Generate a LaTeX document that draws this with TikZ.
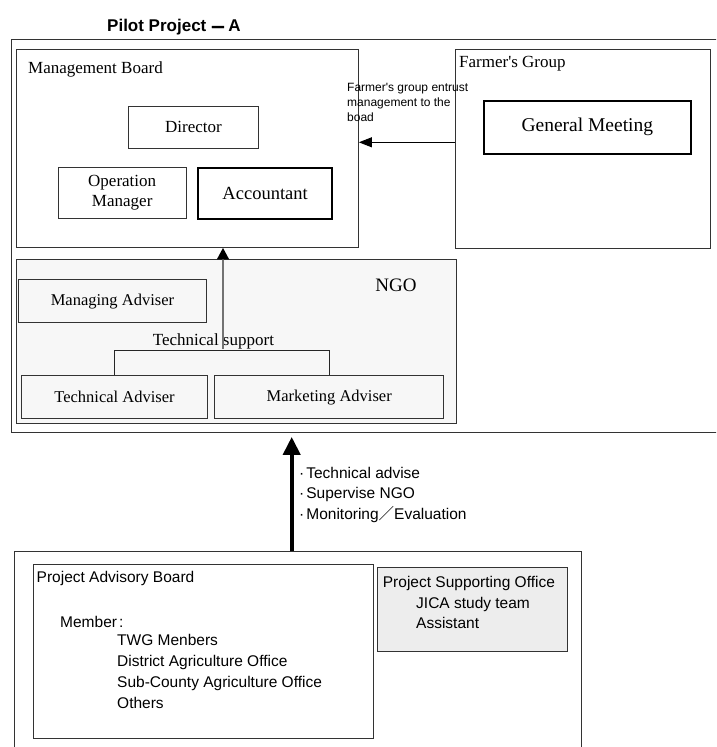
\documentclass[tikz,border=0pt]{standalone}
\usepackage{fontspec}
\setmainfont{Liberation Serif}
\newfontfamily\gothic{Liberation Sans}
\newfontfamily\cjk{Noto Sans CJK JP}
\newfontfamily\cjkbold[FakeBold=2]{Noto Sans CJK JP}
\usetikzlibrary{arrows.meta}

\tikzset{
  frame/.style={draw=black!80, line width=0.9pt, inner sep=0pt, anchor=north west},
  heavy/.style={draw=black, line width=2.2pt, inner sep=0pt, anchor=north west},
  serif/.style={font=\fontsize{17}{20}\selectfont},
  lbl/.style={inner sep=0pt, anchor=base west},
  goth/.style={lbl, font=\gothic\fontsize{15.5}{20}\selectfont},
  small/.style={lbl, font=\gothic\fontsize{12}{15}\selectfont},
  link/.style={draw=black, line width=1pt},
}

\begin{document}
\begin{tikzpicture}[x=1pt, y=-1pt]
\useasboundingbox (0,0) rectangle (716,747);
\clip (0,0) rectangle (716,747);

% title
\node[lbl, font=\gothic\bfseries\fontsize{17}{20}\selectfont] (title) at (107,31)
  {Pilot Project\hspace{3pt}\raisebox{-2.5pt}{\cjkbold －}\hspace{2pt}A};

% upper frame: management board, farmers and NGO
\node[frame, minimum width=720pt, minimum height=393.5pt] (outer) at (10.5,38.5) {};

\node[frame, minimum width=342.5pt, minimum height=198.5pt] (mb) at (15.5,48.5) {};
\node[lbl, serif] (mblabel) at (28,73.5) {Management Board};
\node[frame, serif, minimum width=130pt, minimum height=42pt] (dir) at (128,106) {Director};
\node[frame, serif, align=center, minimum width=128.5pt, minimum height=51pt] (opm) at (57.5,167)
  {Operation\\Manager};
\node[heavy, font=\fontsize{18.5}{21}\selectfont, minimum width=134pt, minimum height=51pt] (acc) at (197,167)
  {Accountant};

\node[frame, minimum width=254.5pt, minimum height=199.5pt] (fg) at (455,48.5) {};
\node[lbl, serif] (fglabel) at (459,67.5) {Farmer\textquotesingle s Group};
\node[heavy, font=\fontsize{19.5}{22}\selectfont, minimum width=207pt, minimum height=53pt] (gm) at (482.7,99.5)
  {General Meeting};

% the group hands management over to the board
\node[small] (ent1) at (347,91.6) {Farmer\textquotesingle s group entrust};
\node[small] (ent2) at (347,106.5) {management to the};
\node[small] (ent3) at (347,121.6) {boad};
\coordinate (fgarrow) at (455,142.3);
\draw[link, -{Triangle[length=13pt,width=10pt]}] (fgarrow) -- (fgarrow -| mb.east);

% NGO
\node[frame, fill=black!3, minimum width=440pt, minimum height=163.2pt] (ngo) at (15.7,259.3) {};
\node[serif, font=\fontsize{19}{22}\selectfont, inner sep=0pt] (ngolabel) at (396,285) {NGO};
\node[frame, serif, font=\fontsize{16.5}{20}\selectfont, minimum width=187.4pt, minimum height=43.3pt] (mad) at (18.3,279)
  {Managing Adviser};
\node[frame, font=\fontsize{16.5}{20}\selectfont, minimum width=186.6pt, minimum height=43.3pt] (tad) at (20.7,375)
  {Technical Adviser};
\node[frame, font=\fontsize{16.5}{20}\selectfont, minimum width=229pt, minimum height=43.3pt] (kad) at (214.3,375)
  {Marketing Adviser};
\node[lbl, serif] (tslabel) at (152.7,345.5) {Technical support};
\draw[draw=black!85, line width=0.9pt] (tad.north) -- ++(0,-24.5) -| (kad.north);
\coordinate (tsfoot) at (223,348.5);
\draw[draw=black!55, line width=1.3pt, -{Triangle[length=11.5pt,width=12pt,color=black]}]
  (tsfoot) -- (tsfoot |- mb.south);

% advisory side
\node[frame, minimum width=567pt, minimum height=230pt] (lower) at (14,551) {};
\coordinate (advfoot) at (291.7,551);
\draw[draw=black, line width=4pt, shorten >=4pt, -{Triangle[length=18pt,width=17pt]}]
  (advfoot) -- (advfoot |- outer.south);
\node[goth] (adv1) at (299,478) {·\kern2pt Technical advise};
\node[goth] (adv2) at (299,498.5) {·\kern2pt Supervise NGO};
\node[goth] (adv3) at (299,519) {·\kern2pt Monitoring{\cjk ／}Evaluation};

\node[frame, minimum width=340pt, minimum height=174.3pt] (pab) at (33,564) {};
\node[goth] (pablabel) at (36.5,582.3) {Project Advisory Board};
\node[goth] (member) at (60,627) {Member\kern2pt:};
\node[goth] (m1) at (117,645.5) {TWG Menbers};
\node[goth] (m2) at (117,666) {District Agriculture Office};
\node[goth] (m3) at (117,687) {Sub-County Agriculture Office};
\node[goth] (m4) at (117,708.5) {Others};

\node[frame, fill=black!7, minimum width=190pt, minimum height=84pt] (pso) at (377,566.7) {};
\node[goth] (psolabel) at (382.7,587) {Project Supporting Office};
\node[goth] (pso1) at (416,608) {JICA study team};
\node[goth] (pso2) at (416,628.8) {Assistant};
\end{tikzpicture}
\end{document}
